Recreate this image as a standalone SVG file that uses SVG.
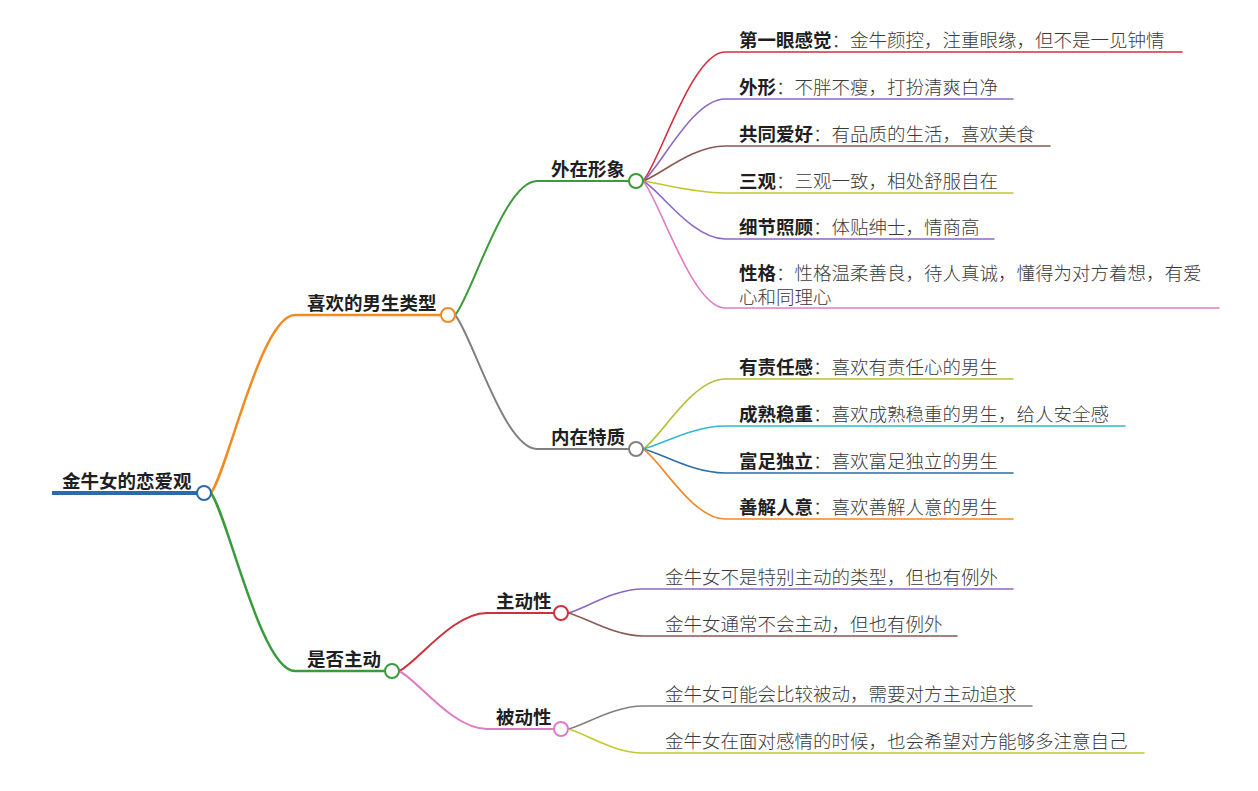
<svg xmlns="http://www.w3.org/2000/svg" width="1258" height="791" viewBox="0 0 1258 791">
<style>
text{font-family:"Noto Sans CJK SC","Noto Sans",sans-serif;font-size:18.5px;}
.b{font-weight:700;fill:#1f1f1f;}
.l{font-weight:300;fill:#3a3a3a;}
.c{fill:none;stroke-linecap:round;}
.k{fill:#fff;stroke-width:2;}
</style>
<rect width="1258" height="791" fill="#fff"/>
<g id="connectors" class="c" stroke-width="2">
<path d="M52,493 H197" stroke="#2e6aa6" stroke-width="4" stroke-linecap="butt"/>
<path d="M211,493 C228,470 261,315 295,315 H441" stroke="#f28a22" stroke-width="2.5"/>
<path d="M211,493 C228,516 261,671 295,671 H385" stroke="#3a9b3a" stroke-width="2.5"/>
<path d="M455,315 C471,298 504,181 537,181 H629" stroke="#3a9b3a"/>
<path d="M455,315 C471,332 504,449 537,449 H629" stroke="#808080"/>
<path d="M399,671 C417,663 452,613 487,613 H554" stroke="#d0303c"/>
<path d="M399,671 C417,679 452,729 487,729 H554" stroke="#e07cc4"/>
<g stroke-width="1.6">
<path d="M643,181 C659,164 692,52 725,52 H1182" stroke="#d0303c"/>
<path d="M643,181 C659,170 692,99 725,99 H1013" stroke="#8c68c4"/>
<path d="M643,181 C659,176 692,146 725,146 H1050" stroke="#8a5a52"/>
<path d="M643,181 C659,183 692,193 725,193 H1013" stroke="#c2c830"/>
<path d="M643,181 C659,189 692,239 725,239 H994" stroke="#8c68c4"/>
<path d="M643,181 C659,198 692,308 725,308 H1219" stroke="#e07cc4"/>
<path d="M643,449 C659,440 692,379 725,379 H1013" stroke="#b8c034"/>
<path d="M643,449 C659,446 692,426 725,426 H1125" stroke="#36b6d2"/>
<path d="M643,449 C659,452 692,473 725,473 H1013" stroke="#2c6ea8"/>
<path d="M643,449 C659,458 692,519 725,519 H1013" stroke="#f08a2a"/>
<path d="M568,613 C583,610 613,589 643,589 H1013" stroke="#8c68c4"/>
<path d="M568,613 C583,616 613,636 643,636 H957" stroke="#8a5a52"/>
<path d="M568,729 C583,726 613,706 643,706 H1032" stroke="#808080"/>
<path d="M568,729 C583,732 613,753 643,753 H1144" stroke="#c2c830"/>
</g>
</g>
<g id="root">
<text class="b" x="62" y="488">金牛女的恋爱观</text>
<circle class="k" cx="204" cy="493" r="7" stroke="#2e6aa6"/>
</g>
<g id="n-type">
<text class="b" x="307" y="310">喜欢的男生类型</text>
<circle class="k" cx="448" cy="315" r="7" stroke="#f28a22"/>
</g>
<g id="n-active">
<text class="b" x="307" y="666">是否主动</text>
<circle class="k" cx="392" cy="671" r="7" stroke="#3a9b3a"/>
</g>
<g id="n-outer">
<text class="b" x="551" y="176">外在形象</text>
<circle class="k" cx="636" cy="181" r="7" stroke="#3a9b3a"/>
</g>
<g id="n-inner">
<text class="b" x="551" y="444">内在特质</text>
<circle class="k" cx="636" cy="449" r="7" stroke="#808080"/>
</g>
<g id="n-zd">
<text class="b" x="496" y="608">主动性</text>
<circle class="k" cx="561" cy="613" r="7" stroke="#d0303c"/>
</g>
<g id="n-bd">
<text class="b" x="496" y="724">被动性</text>
<circle class="k" cx="561" cy="729" r="7" stroke="#e07cc4"/>
</g>
<g id="l1"><text x="739" y="47"><tspan class="b">第一眼感觉</tspan><tspan class="l">：金牛颜控，注重眼缘，但不是一见钟情</tspan></text></g>
<g id="l2"><text x="739" y="94"><tspan class="b">外形</tspan><tspan class="l">：不胖不瘦，打扮清爽白净</tspan></text></g>
<g id="l3"><text x="739" y="141"><tspan class="b">共同爱好</tspan><tspan class="l">：有品质的生活，喜欢美食</tspan></text></g>
<g id="l4"><text x="739" y="188"><tspan class="b">三观</tspan><tspan class="l">：三观一致，相处舒服自在</tspan></text></g>
<g id="l5"><text x="739" y="234"><tspan class="b">细节照顾</tspan><tspan class="l">：体贴绅士，情商高</tspan></text></g>
<g id="l6"><text x="739" y="280"><tspan class="b">性格</tspan><tspan class="l">：性格温柔善良，待人真诚，懂得为对方着想，有爱</tspan><tspan class="l" x="739" y="304">心和同理心</tspan></text></g>
<g id="l7"><text x="739" y="374"><tspan class="b">有责任感</tspan><tspan class="l">：喜欢有责任心的男生</tspan></text></g>
<g id="l8"><text x="739" y="421"><tspan class="b">成熟稳重</tspan><tspan class="l">：喜欢成熟稳重的男生，给人安全感</tspan></text></g>
<g id="l9"><text x="739" y="468"><tspan class="b">富足独立</tspan><tspan class="l">：喜欢富足独立的男生</tspan></text></g>
<g id="l10"><text x="739" y="514"><tspan class="b">善解人意</tspan><tspan class="l">：喜欢善解人意的男生</tspan></text></g>
<g id="l11"><text class="l" x="665" y="584">金牛女不是特别主动的类型，但也有例外</text></g>
<g id="l12"><text class="l" x="665" y="631">金牛女通常不会主动，但也有例外</text></g>
<g id="l13"><text class="l" x="665" y="701">金牛女可能会比较被动，需要对方主动追求</text></g>
<g id="l14"><text class="l" x="665" y="748">金牛女在面对感情的时候，也会希望对方能够多注意自己</text></g>
</svg>
